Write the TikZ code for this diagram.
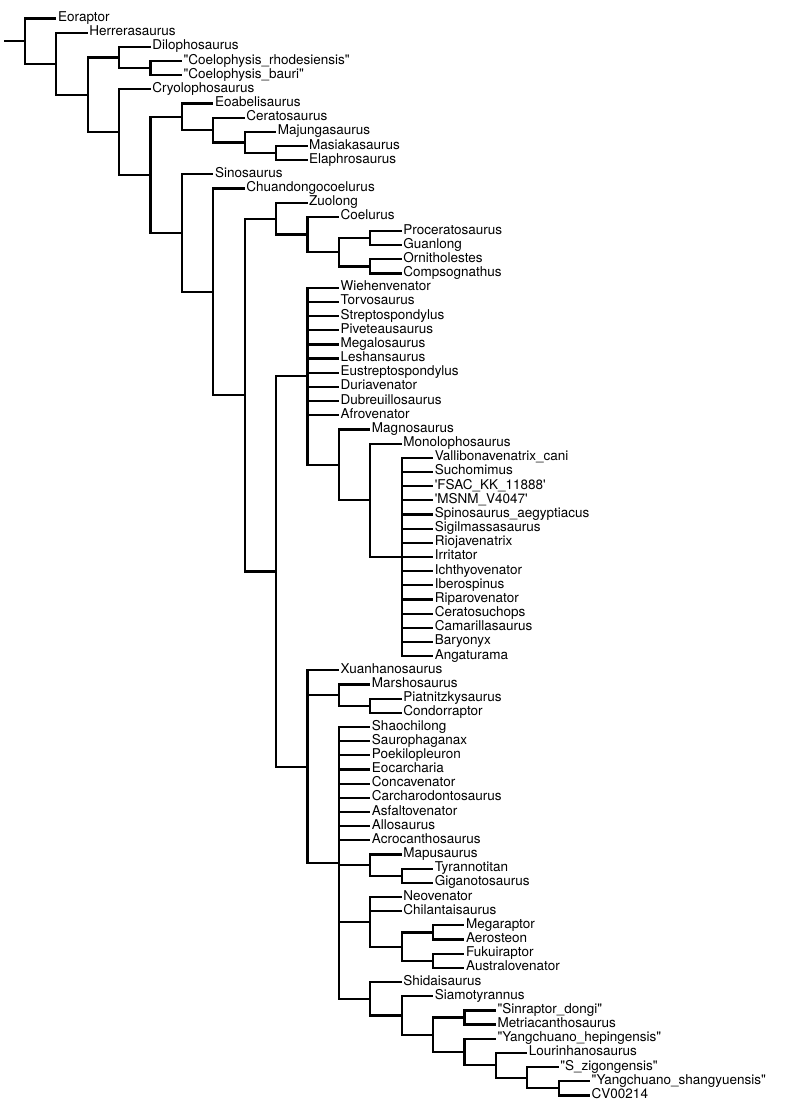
\documentclass[tikz,border=0pt]{standalone}
\usepackage{fontspec}
\setmainfont{TeX Gyre Heros}
\tikzset{
  branch/.style={line width=2.2pt, black},
  tiplabel/.style={anchor=base west, inner sep=0pt, xshift=1.5pt, yshift=-3pt, font=\fontsize{13.5}{16}\selectfont}
}
\newcommand{\dq}{\textquotedbl}
\newcommand{\sq}{\textquotesingle}
\begin{document}
\begin{tikzpicture}[x=31.39pt, y=-14.17pt]
\useasboundingbox[fill=white] (-25pt,18.5pt) rectangle (775pt,-1090.5pt);
% internal nodes
\coordinate (r) at (0,1.5963);
\coordinate (stem) at ([xshift=-21pt]r);
\coordinate (n1) at (1,3.1926);
\coordinate (n2) at (2,5.3851);
\coordinate (n3) at (3,2.75);
\coordinate (nCoel) at (4,3.5);
\coordinate (n4) at (3,8.0202);
\coordinate (n5) at (4,11.0405);
\coordinate (n6) at (5,6.9375);
\coordinate (nCer) at (6,7.875);
\coordinate (nMaj) at (7,8.75);
\coordinate (nMas) at (8,9.5);
\coordinate (n7) at (5,15.1434);
\coordinate (n8) at (6,19.2869);
\coordinate (n9) at (7,26.5737);
\coordinate (n10) at (8,14.125);
\coordinate (nCoe) at (9,15.25);
\coordinate (nPO) at (10,16.5);
\coordinate (nPro) at (11,15.5);
\coordinate (nOrn) at (11,17.5);
\coordinate (n11) at (8,39.0225);
\coordinate (n12) at (9,25.25);
\coordinate (n13) at (10,31.5);
\coordinate (n14) at (11,34);
\coordinate (n15) at (12,38);
\coordinate (n16) at (9,52.7949);
\coordinate (nMar) at (10,47.75);
\coordinate (nPia) at (11,48.5);
\coordinate (n18) at (10,59.5898);
\coordinate (nMap) at (11,59.75);
\coordinate (nTyr) at (12,60.5);
\coordinate (nNeo) at (11,63.75);
\coordinate (nMF) at (12,65.5);
\coordinate (nMeg) at (13,64.5);
\coordinate (nFuk) at (13,66.5);
\coordinate (nShi) at (11,69.1797);
\coordinate (nSia) at (12,70.3594);
\coordinate (nSY) at (13,71.7188);
\coordinate (nSin) at (14,70.5);
\coordinate (nYH) at (14,72.9375);
\coordinate (nLou) at (15,73.875);
\coordinate (nSz) at (16,74.75);
\coordinate (nCV) at (17,75.5);
% root stem
\draw[branch] (stem) -- (r);
% internal branches
\foreach \p/\c in {r/n1, n1/n2, n2/n3, n3/nCoel, n2/n4, n4/n5, n5/n6, n6/nCer, nCer/nMaj, nMaj/nMas,
  n5/n7, n7/n8, n8/n9, n9/n10, n10/nCoe, nCoe/nPO, nPO/nPro, nPO/nOrn, n9/n11, n11/n12, n12/n13,
  n13/n14, n14/n15, n11/n16, n16/nMar, nMar/nPia, n16/n18, n18/nMap, nMap/nTyr, n18/nNeo, nNeo/nMF,
  nMF/nMeg, nMF/nFuk, n18/nShi, nShi/nSia, nSia/nSY, nSY/nSin, nSY/nYH, nYH/nLou, nLou/nSz, nSz/nCV}
  \draw[branch] (\p) |- (\c);
% tips
\foreach \d/\k/\p/\lab in {
  1/0/r/Eoraptor,
  2/1/n1/Herrerasaurus,
  4/2/n3/Dilophosaurus,
  5/3/nCoel/\dq Coelophysis\_rhodesiensis\dq,
  5/4/nCoel/\dq Coelophysis\_bauri\dq,
  4/5/n4/Cryolophosaurus,
  6/6/n6/Eoabelisaurus,
  7/7/nCer/Ceratosaurus,
  8/8/nMaj/Majungasaurus,
  9/9/nMas/Masiakasaurus,
  9/10/nMas/Elaphrosaurus,
  6/11/n7/Sinosaurus,
  7/12/n8/Chuandongocoelurus,
  9/13/n10/Zuolong,
  10/14/nCoe/Coelurus,
  12/15/nPro/Proceratosaurus,
  12/16/nPro/Guanlong,
  12/17/nOrn/Ornitholestes,
  12/18/nOrn/Compsognathus,
  10/19/n12/Wiehenvenator,
  10/20/n12/Torvosaurus,
  10/21/n12/Streptospondylus,
  10/22/n12/Piveteausaurus,
  10/23/n12/Megalosaurus,
  10/24/n12/Leshansaurus,
  10/25/n12/Eustreptospondylus,
  10/26/n12/Duriavenator,
  10/27/n12/Dubreuillosaurus,
  10/28/n12/Afrovenator,
  11/29/n13/Magnosaurus,
  12/30/n14/Monolophosaurus,
  13/31/n15/Vallibonavenatrix\_cani,
  13/32/n15/Suchomimus,
  13/33/n15/\sq FSAC\_KK\_11888\sq,
  13/34/n15/\sq MSNM\_V4047\sq,
  13/35/n15/Spinosaurus\_aegyptiacus,
  13/36/n15/Sigilmassasaurus,
  13/37/n15/Riojavenatrix,
  13/38/n15/Irritator,
  13/39/n15/Ichthyovenator,
  13/40/n15/Iberospinus,
  13/41/n15/Riparovenator,
  13/42/n15/Ceratosuchops,
  13/43/n15/Camarillasaurus,
  13/44/n15/Baryonyx,
  13/45/n15/Angaturama,
  10/46/n16/Xuanhanosaurus,
  11/47/nMar/Marshosaurus,
  12/48/nPia/Piatnitzkysaurus,
  12/49/nPia/Condorraptor,
  11/50/n18/Shaochilong,
  11/51/n18/Saurophaganax,
  11/52/n18/Poekilopleuron,
  11/53/n18/Eocarcharia,
  11/54/n18/Concavenator,
  11/55/n18/Carcharodontosaurus,
  11/56/n18/Asfaltovenator,
  11/57/n18/Allosaurus,
  11/58/n18/Acrocanthosaurus,
  12/59/nMap/Mapusaurus,
  13/60/nTyr/Tyrannotitan,
  13/61/nTyr/Giganotosaurus,
  12/62/nNeo/Neovenator,
  12/63/nNeo/Chilantaisaurus,
  14/64/nMeg/Megaraptor,
  14/65/nMeg/Aerosteon,
  14/66/nFuk/Fukuiraptor,
  14/67/nFuk/Australovenator,
  12/68/nShi/Shidaisaurus,
  13/69/nSia/Siamotyrannus,
  15/70/nSin/\dq Sinraptor\_dongi\dq,
  15/71/nSin/Metriacanthosaurus,
  15/72/nYH/\dq Yangchuano\_hepingensis\dq,
  16/73/nLou/Lourinhanosaurus,
  17/74/nSz/\dq S\_zigongensis\dq,
  18/75/nCV/\dq Yangchuano\_shangyuensis\dq,
  18/76/nCV/CV00214}
{
  \coordinate (t\k) at (\d,\k);
  \draw[branch] (\p) |- (t\k);
  \node[tiplabel] (l\k) at (t\k) {\lab};
}
\end{tikzpicture}
\end{document}
